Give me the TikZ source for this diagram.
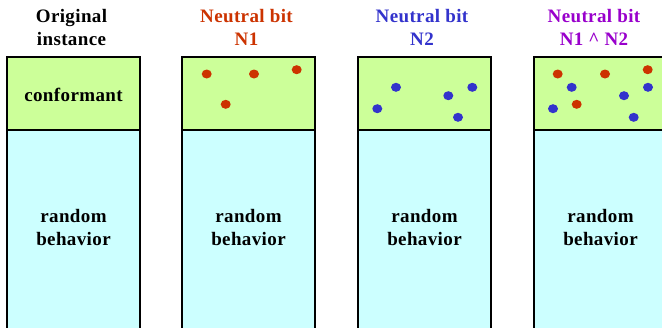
\documentclass[tikz,border=0pt]{standalone}
\usepackage{fontspec}
\setmainfont{Liberation Serif}[LetterSpace=2]
\usetikzlibrary{positioning}

\definecolor{confgreen}{HTML}{CCFF99}
\definecolor{randcyan}{HTML}{CCFFFF}
\definecolor{nred}{HTML}{CC3300}
\definecolor{nblue}{HTML}{3333CC}
\definecolor{npurple}{HTML}{9900CC}

\begin{document}
\begin{tikzpicture}[
    x=1pt, y=-1pt,
    % Styling for the columns
    conf/.style={draw=black, line width=1.4pt, fill=confgreen},
    rand/.style={draw=black, line width=1.4pt, fill=randcyan},
    label/.style={font=\fontsize{19}{23}\selectfont\bfseries, align=center, inner sep=0pt},
    title/.style={label},
    reddot/.style={fill=nred},
    bluedot/.style={fill=nblue}
]
    \clip (0,0) rectangle (662,327);
    \fill[white] (0,0) rectangle (662,327);

    % Four columns: conformant part on top, random part below
    \foreach \xl/\name in {7/A,182/B,358/C,534/D} {
        \draw[rand] (\xl,130) rectangle ++(133,230);
        \draw[conf] (\xl,57) rectangle ++(133,73);
        \node[label] (R\name) at (\xl+66.5,227) {random\\behavior};
    }
    \node[label] (conf) at (73.5,95) {conformant};

    % Column titles
    \node[title] (T1) at (71.5,27) {Original\\instance};
    \node[title, text=nred] (T2) at (246.5,27) {Neutral bit\\N1};
    \node[title, text=nblue] (T3) at (422,27) {Neutral bit\\N2};
    \node[title, text=npurple] (T4) at (594,27) {Neutral bit\\N1 \^{} N2};

    % Neutral bits N1
    \foreach \dx/\dy in {24.7/74, 72/74, 114.7/69.7, 43.7/104.3} {
        \fill[reddot] (182+\dx,\dy) ellipse (5pt and 4.5pt);
        \fill[reddot] (534+\dx-1,\dy) ellipse (5pt and 4.5pt);
    }
    % Neutral bits N2
    \foreach \dx/\dy in {38/87.3, 114.3/87.3, 90.3/95.7, 19.3/108.7, 100/117.3} {
        \fill[bluedot] (358+\dx,\dy) ellipse (5pt and 4.5pt);
        \fill[bluedot] (534+\dx-0.3,\dy) ellipse (5pt and 4.5pt);
    }
\end{tikzpicture}
\end{document}
